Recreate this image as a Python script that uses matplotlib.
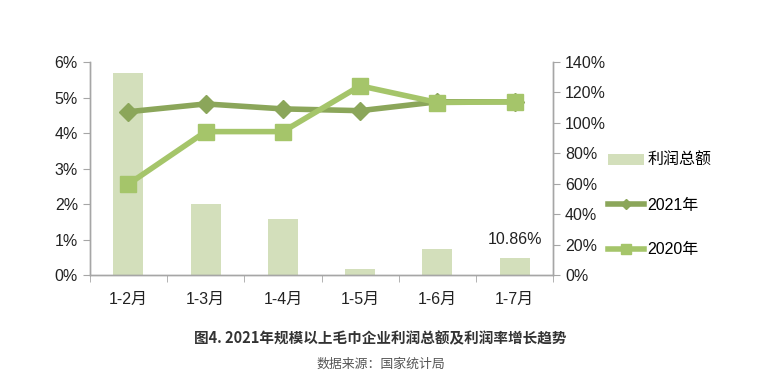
import matplotlib
matplotlib.use("Agg")
import matplotlib.pyplot as plt
from matplotlib.lines import Line2D
from matplotlib.patches import Patch
from matplotlib.ticker import FixedLocator

plt.rcParams['font.family'] = ['Liberation Sans', 'Noto Sans CJK SC', 'DejaVu Sans']

categories = ['1-2月', '1-3月', '1-4月', '1-5月', '1-6月', '1-7月']
profit_total = [132.6, 46.7, 36.8, 3.8, 17.2, 10.86]   # right axis, %
margin_2021 = [4.60, 4.82, 4.68, 4.63, 4.88, 4.88]      # left axis, %
margin_2020 = [2.56, 4.04, 4.04, 5.33, 4.86, 4.88]      # left axis, %
left_ticks = [0, 1, 2, 3, 4, 5, 6]
right_ticks = [0, 20, 40, 60, 80, 100, 120, 140]

bar_c = '#d3dfbb'
c2021 = '#8ba65a'
c2020 = '#a5c56a'
axis_c = '#a6a6a6'
txt_c = '#222222'

fig = plt.figure(figsize=(7.61, 3.83), dpi=100)
ax = fig.add_axes([0.118, 0.282, 0.609, 0.556])
ax2 = ax.twinx()

x = list(range(len(categories)))
ax2.bar(x, profit_total, width=0.39, color=bar_c, zorder=1)
ax2.set_ylim(0, 140)
ax.set_ylim(0, 6)
ax.set_xlim(-0.5, 5.5)

ax.set_zorder(ax2.get_zorder() + 1)
ax.patch.set_visible(False)

ax.plot(x, margin_2021, color=c2021, lw=4, marker='D', markersize=9, zorder=3)
ax.plot(x, margin_2020, color=c2020, lw=4, marker='s', markersize=12, zorder=4)

ax2.annotate('10.86%', (5, profit_total[5]), xytext=(0, 8), textcoords='offset points',
             ha='center', va='bottom', fontsize=11.5, color=txt_c)

ax.set_yticks(left_ticks)
ax.set_yticklabels([f'{v}%' for v in left_ticks])
ax2.set_yticks(right_ticks)
ax2.set_yticklabels([f'{v}%' for v in right_ticks])

ax.set_xticks(x)
ax.set_xticklabels(categories)
ax.xaxis.set_minor_locator(FixedLocator([i - 0.5 for i in range(len(categories) + 1)]))
ax.tick_params(axis='x', which='major', length=0, pad=12, labelsize=11.5, labelcolor=txt_c)
ax.tick_params(axis='x', which='minor', length=5, color=axis_c, direction='out')
ax.tick_params(axis='y', length=5, color=axis_c, labelsize=11.5, labelcolor=txt_c)
ax2.tick_params(axis='y', length=5, color=axis_c, labelsize=11.5, labelcolor=txt_c)

for a in (ax, ax2):
    a.spines['top'].set_visible(False)
    for s in ('left', 'right', 'bottom'):
        a.spines[s].set_color(axis_c)
        a.spines[s].set_linewidth(1)

handles = [
    Patch(facecolor=bar_c, edgecolor='none'),
    Line2D([], [], color=c2021, lw=4, marker='D', markersize=5),
    Line2D([], [], color=c2020, lw=4, marker='s', markersize=7),
]
labels = ['利润总额', '2021年', '2020年']
fig.legend(handles, labels, loc='upper left', bbox_to_anchor=(0.79, 0.617),
           frameon=False, fontsize=11.5, labelspacing=1.85, handlelength=2.3,
           handletextpad=0.2, borderaxespad=0)

fig.text(0.5, 0.117, '图4. 2021年规模以上毛巾企业利润总额及利润率增长趋势',
         ha='center', va='center', fontsize=10.5, fontweight='bold', color='#333333',
         family=['Noto Sans CJK SC', 'DejaVu Sans'])
fig.text(0.5, 0.05, '数据来源：国家统计局', ha='center', va='center',
         fontsize=9.3, color='#555555', family=['Noto Sans CJK SC', 'DejaVu Sans'])

fig.savefig('out.png', dpi=100, facecolor='white')
